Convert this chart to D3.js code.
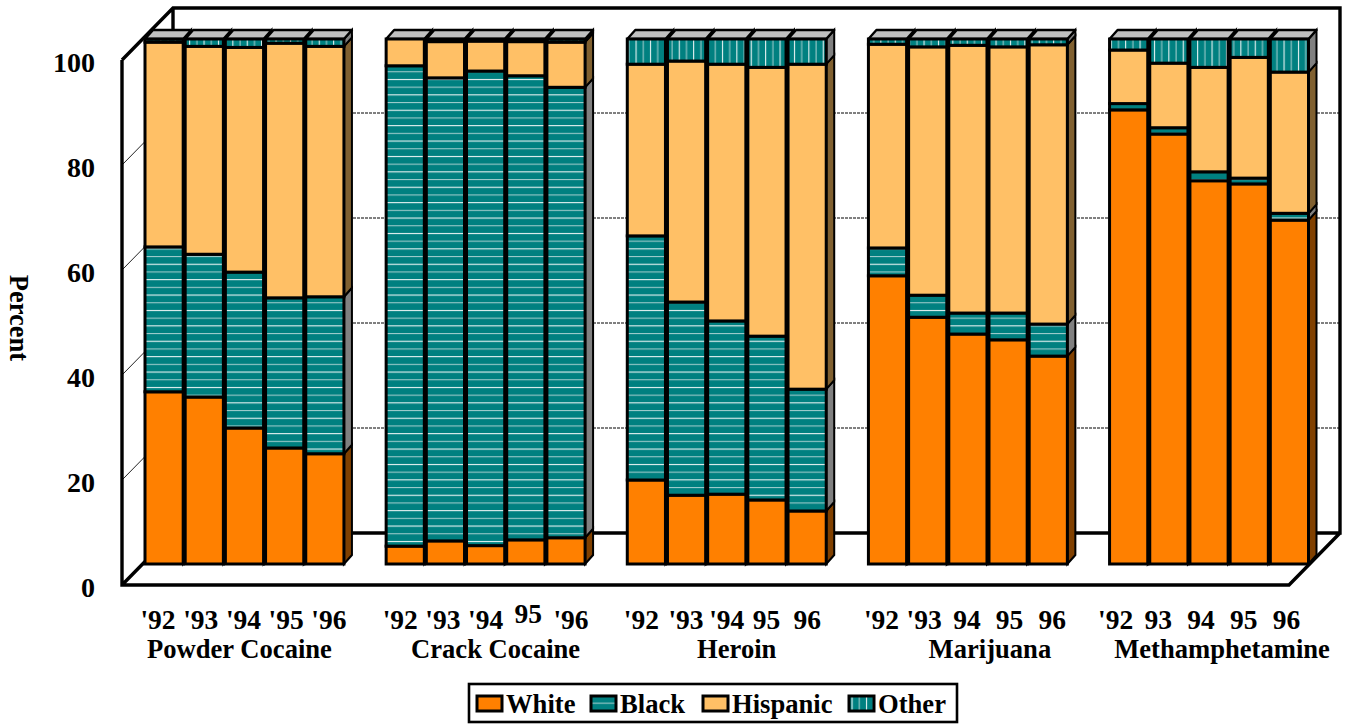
<!DOCTYPE html>
<html><head><meta charset="utf-8">
<script src="https://cdn.jsdelivr.net/npm/d3@7"></script>
<style>
html,body{margin:0;padding:0;background:#fff;overflow:hidden}
svg{display:block}
text{font-family:"Liberation Serif",serif;font-weight:700;fill:#000}
</style></head><body><svg id="c" width="1346" height="725"></svg>
<script>
const drugs = ["Powder Cocaine","Crack Cocaine","Heroin","Marijuana","Methamphetamine"];
const seriesNames = ["White","Black","Hispanic","Other"];
const yearLabels = [
  ["'92","'93","'94","'95","'96"],
  ["'92","'93","'94","95","'96"],
  ["'92","'93","'94","95","96"],
  ["'92","'93","94","95","96"],
  ["'92","93","94","95","96"]
];
const white = [32.8,31.8,25.9,22.1,21.0, 3.4,4.4,3.5,4.6,5.0, 16.0,13.1,13.3,12.2,10.1, 54.9,47.0,43.8,42.7,39.6, 86.5,81.9,73.0,72.4,65.5];
const black = [27.6,27.2,29.7,28.6,29.9, 91.5,88.2,90.4,88.4,85.8, 46.5,36.8,33.0,31.2,23.2, 5.3,4.2,4.0,5.1,6.1, 1.2,1.2,1.7,1.1,1.3];
const hispanic = [39.0,39.6,42.8,48.5,47.7, 5.1,6.9,5.7,6.5,8.6, 32.7,45.9,48.9,51.2,61.9, 38.8,47.3,51.0,50.7,53.2, 10.2,12.3,19.9,23.0,26.9];
const other = [0.6,1.4,1.6,0.8,1.4, 0,0.5,0.4,0.5,0.6, 4.8,4.2,4.8,5.4,4.8, 1.0,1.5,1.2,1.5,1.1, 2.1,4.6,5.4,3.5,6.3];
const yTicks = [0,20,40,60,80,100];

const svg = d3.select("#c");
const defs = svg.append("defs");
const pH = defs.append("pattern").attr("id","pBlack").attr("patternUnits","userSpaceOnUse").attr("width",8).attr("height",15.4);
pH.append("rect").attr("width",8).attr("height",15.4).attr("fill","#008080");
pH.append("rect").attr("y",2).attr("width",8).attr("height",1).attr("fill","#fff");
pH.append("rect").attr("y",9.7).attr("width",8).attr("height",1).attr("fill","#a8d0d0");
const pV = defs.append("pattern").attr("id","pOther").attr("patternUnits","userSpaceOnUse").attr("width",14.4).attr("height",8);
pV.append("rect").attr("width",14.4).attr("height",8).attr("fill","#008080");
pV.append("rect").attr("x",2).attr("width",1).attr("height",8).attr("fill","#fff");
pV.append("rect").attr("x",9.2).attr("width",1).attr("height",8).attr("fill","#a8d0d0");

const fills = {White:"#FF8000",Black:"url(#pBlack)",Hispanic:"#FFC066",Other:"url(#pOther)"};
const sideFills = {White:"#804000",Black:"#808080",Hispanic:"#806030",Other:"#808080"};

// table built from the arrays
const table = white.map((w,i)=>({slot:Math.floor(i/5)*6+i%5,group:Math.floor(i/5),idx:i%5,
  White:w,Black:black[i],Hispanic:hispanic[i],Other:other[i]}));
const stack = d3.stack().keys(seriesNames)(table);

const DX=8, DY=9;            // bar depth
const y = d3.scaleLinear().domain([0,100]).range([564,39]);      // bars
const yFront = d3.scaleLinear().domain([0,100]).range([585,60]); // axis plane
const yBack = d3.scaleLinear().domain([0,100]).range([533,8]);   // back wall
const x = d3.scaleBand().domain(d3.range(29)).range([145,1308.5]).paddingInner(0.05).paddingOuter(0);

// walls
const g = svg.append("g");
const heavy = s=>s.attr("fill","none").attr("stroke","#000").attr("stroke-width",3.4);
const L0=122, B0=173, R0=1289, R1=1340;
g.selectAll("line.grid").data(yTicks.filter(t=>t>0&&t<100)).join("line")
  .attr("x1",B0).attr("x2",R1).attr("y1",d=>yBack(d)).attr("y2",d=>yBack(d))
  .attr("stroke","#000").attr("stroke-width",1).attr("stroke-dasharray","3,1");
g.selectAll("line.gridl").data(yTicks.filter(t=>t>0&&t<100)).join("line")
  .attr("x1",L0).attr("x2",B0).attr("y1",d=>yFront(d)).attr("y2",d=>yBack(d))
  .attr("stroke","#222").attr("stroke-width",1);
g.append("path").call(heavy).attr("d",
  `M${L0},${yFront(100)}L${B0},${yBack(100)}H${R1}V${yBack(0)}H${B0}V${yBack(100)}`+
  `M${L0},${yFront(100)}V${yFront(0)}H${R0}L${R1},${yBack(0)}M${L0},${yFront(0)}L${B0},${yBack(0)}`);

// bars
const bars = svg.append("g");
const bw = x.bandwidth();
table.forEach((row,i)=>{
  const bx = x(row.slot), g1 = bars.append("g");
  stack.forEach(s=>{
    const [a,b] = s[i]; const name = s.key;
    const ya=y(a), yb=y(b);
    g1.append("path").attr("d",`M${bx+bw},${ya}L${bx+bw+DX},${ya-DY}V${yb-DY}L${bx+bw},${yb}Z`)
      .attr("fill",sideFills[name]).attr("stroke","#000").attr("stroke-width",2);
  });
  g1.append("path").attr("d",`M${bx},${y(100)}L${bx+DX},${y(100)-DY}H${bx+bw+DX}L${bx+bw},${y(100)}Z`)
    .attr("fill","#C0C0C0").attr("stroke","#000").attr("stroke-width",2.4).attr("stroke-linejoin","round");
});
table.forEach((row,i)=>{
  const bx = x(row.slot);
  stack.forEach(s=>{
    const [a,b] = s[i]; if(b-a<=0) return;
    bars.append("rect").attr("x",bx).attr("width",bw).attr("y",y(b)).attr("height",y(a)-y(b))
      .attr("fill",fills[s.key]).attr("stroke","#000").attr("stroke-width",3);
  });
});

// y axis
const ay = svg.append("g").attr("transform",`translate(${L0},0)`)
  .call(d3.axisLeft(yFront).tickValues(yTicks).tickSize(0).tickPadding(27));
ay.select(".domain").remove();
ay.selectAll("text").style("font-family",'"Liberation Serif",serif').style("font-size","28px").style("font-weight",700).attr("dy","0.4em");
svg.append("text").attr("transform","translate(10,318) rotate(90)").attr("text-anchor","middle")
  .style("font-size","26.5px").text("Percent");

// x labels
const groupCenterNudge = [-1,0,-5,-1,-8];
const heroinNudge = [5,7,5,2,0];
const nameNudge = [-5,10,10,22,13];
const xLab = d3.scalePoint().domain(d3.range(5)).range([-85.4,85.4]);
const centers = drugs.map((d,k)=>x(k*6)+(x(k*6+4)+bw-x(k*6))/2);
yearLabels.forEach((labs,k)=>{
  labs.forEach((t,i)=>{
    svg.append("text").attr("x",centers[k]+groupCenterNudge[k]+xLab(i)+(k===2?heroinNudge[i]:0)).attr("y",(k===1&&i===3)?623:629)
      .attr("text-anchor","middle").style("font-size","27.5px").text(t);
  });
  svg.append("text").attr("x",centers[k]+nameNudge[k]).attr("y",658).attr("text-anchor","middle")
    .style("font-size","26.6px").text(drugs[k]);
});

// legend
const lg = svg.append("g");
lg.append("rect").attr("x",469).attr("y",684).attr("width",488).attr("height",38).attr("fill","#fff").attr("stroke","#000").attr("stroke-width",2.6);
const legendX = d3.scaleOrdinal().domain(seriesNames).range([477,591,703,849]);
seriesNames.forEach(n=>{
  lg.append("rect").attr("x",legendX(n)).attr("y",696).attr("width",25).attr("height",15)
    .attr("fill",fills[n]).attr("stroke","#000").attr("stroke-width",3);
  lg.append("text").attr("x",legendX(n)+29).attr("y",713).style("font-size","26.6px").text(n);
});
</script></body></html>
